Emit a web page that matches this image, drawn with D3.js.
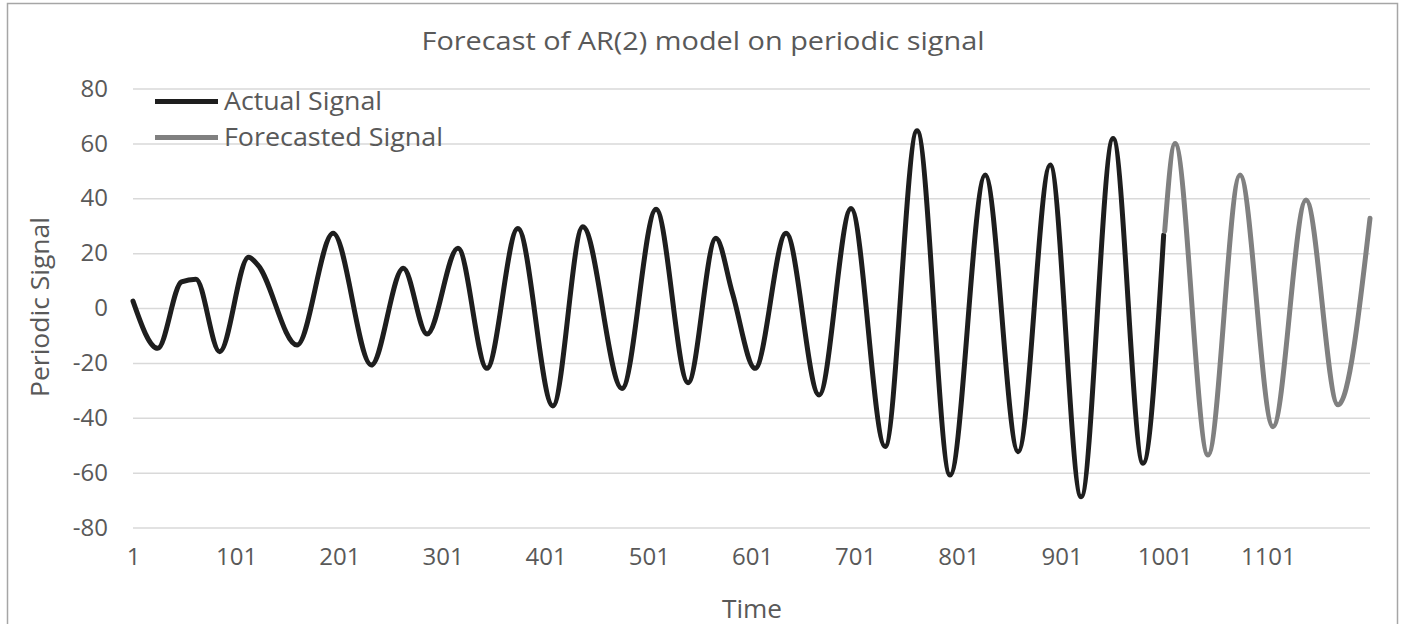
<!DOCTYPE html>
<html>
<head>
<meta charset="utf-8">
<script src="https://cdn.jsdelivr.net/npm/d3@7"></script>
<style>
  body { margin: 0; background: #fff; }
  svg { display: block; }
  .tick text { font-family: "Open Sans", Lato, sans-serif; font-size: 24px; fill: #595959; }
  .label { font-family: "Open Sans", Lato, sans-serif; fill: #595959; }
</style>
</head>
<body>
<svg id="chart" width="1403" height="624"></svg>
<script>
// values (peaks, troughs and a few bends)
var actualTime = [1, 25, 48, 62, 85, 113, 122, 160, 195, 232, 263, 286, 316, 344, 374, 408, 437, 475,
  508, 539, 566, 582, 604, 634, 666, 697, 730, 761, 793, 827, 859, 890, 920, 951, 980, 1000];
var actualValue = [2.5, -14.7, 9.5, 10.5, -15.9, 18.5, 15.7, -13.5, 27.2, -20.8, 14.5, -9.5, 21.8, -22, 29, -35.7, 29.6, -29.3,
  36, -27.2, 25.4, 5.5, -22, 27.2, -31.7, 36.3, -50.5, 64.6, -60.9, 48.5, -52.4, 52.1, -68.8, 61.8, -56.6, 26.6];

var forecastTime = [1001, 1011, 1043, 1074, 1106, 1138, 1169, 1200];
var forecastValue = [28, 60, -53.6, 48.5, -43.3, 39.4, -35.3, 32.7];

var yTicks = [-80, -60, -40, -20, 0, 20, 40, 60, 80];
var xTicks = [1, 101, 201, 301, 401, 501, 601, 701, 801, 901, 1001, 1101];

var seriesNames = ["Actual Signal", "Forecasted Signal"];
var seriesColors = ["#1e1e1e", "#808080"];

var svg = d3.select("#chart");

// outer frame
svg.append("rect")
  .attr("x", 7.5).attr("y", 3.5)
  .attr("width", 1390).attr("height", 660)
  .attr("fill", "none")
  .attr("stroke", "#a6a6a6")
  .attr("stroke-width", 1.5);

var x = d3.scaleLinear().domain([1, 1200]).range([133, 1370]);
var y = d3.scaleLinear().domain([-80, 80]).range([527.5, 88.5]);

// y axis with gridlines
var yAxis = svg.append("g")
  .attr("transform", "translate(133,0)")
  .call(d3.axisLeft(y).tickValues(yTicks).tickSize(-(1370 - 133)).tickPadding(25)
    .tickFormat(function(d) { return String(d); }));
yAxis.select(".domain").remove();
yAxis.selectAll(".tick line").attr("stroke", "#d9d9d9").attr("stroke-width", 1.5);

// x axis labels
var xAxis = svg.append("g")
  .attr("transform", "translate(0,527.5)")
  .call(d3.axisBottom(x).tickValues(xTicks).tickSize(0).tickPadding(20)
    .tickFormat(function(d) { return String(d); }));
xAxis.select(".domain").remove();

var line = d3.line()
  .x(function(d) { return x(d[0]); })
  .y(function(d) { return y(d[1]); })
  .curve(d3.curveMonotoneX);

var actual = d3.zip(actualTime, actualValue);
var forecast = d3.zip(forecastTime, forecastValue);

svg.append("path")
  .datum(actual)
  .attr("d", line)
  .attr("fill", "none")
  .attr("stroke", seriesColors[0])
  .attr("stroke-width", 5)
  .attr("stroke-linejoin", "round")
  .attr("stroke-linecap", "round");

svg.append("path")
  .datum(forecast)
  .attr("d", line)
  .attr("fill", "none")
  .attr("stroke", seriesColors[1])
  .attr("stroke-width", 5)
  .attr("stroke-linejoin", "round")
  .attr("stroke-linecap", "round");

// title and axis titles (reference text is a bit stretched, so fit the widths)
svg.append("text")
  .attr("class", "label")
  .attr("x", 703).attr("y", 50)
  .attr("text-anchor", "middle")
  .attr("textLength", 563)
  .attr("lengthAdjust", "spacingAndGlyphs")
  .style("font-size", "25px")
  .text("Forecast of AR(2) model on periodic signal");

svg.append("text")
  .attr("class", "label")
  .attr("x", 752).attr("y", 618)
  .attr("text-anchor", "middle")
  .attr("textLength", 60)
  .attr("lengthAdjust", "spacingAndGlyphs")
  .style("font-size", "25px")
  .text("Time");

svg.append("text")
  .attr("class", "label")
  .attr("transform", "translate(49,307) rotate(-90)")
  .attr("text-anchor", "middle")
  .attr("textLength", 180)
  .attr("lengthAdjust", "spacingAndGlyphs")
  .style("font-size", "25px")
  .text("Periodic Signal");

// legend
var legendWidths = [158, 219];
var legend = svg.selectAll(".legend")
  .data(seriesNames)
  .enter().append("g")
  .attr("class", "legend")
  .attr("transform", function(d, i) { return "translate(155," + (101.5 + i * 36) + ")"; });

legend.append("line")
  .attr("x1", 0).attr("x2", 63)
  .attr("stroke", function(d, i) { return seriesColors[i]; })
  .attr("stroke-width", 5);

legend.append("text")
  .attr("class", "label")
  .attr("x", 69).attr("y", 8)
  .attr("textLength", function(d, i) { return legendWidths[i]; })
  .attr("lengthAdjust", "spacingAndGlyphs")
  .style("font-size", "25px")
  .text(function(d) { return d; });
</script>
</body>
</html>
